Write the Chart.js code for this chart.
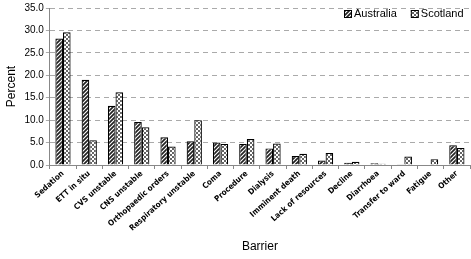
<!DOCTYPE html>
<html>
<head>
<meta charset="utf-8">
<script src="https://cdn.jsdelivr.net/npm/chart.js@4"></script>
<style>
  html, body { margin: 0; padding: 0; background: #fff; }
  #wrap { width: 471px; height: 259px; }
</style>
</head>
<body>
<div id="wrap"><canvas id="c" width="471" height="259"></canvas></div>
<script>
const barriers = ['Sedation', 'ETT in situ', 'CVS unstable', 'CNS unstable', 'Orthopaedic orders',
  'Respiratory unstable', 'Coma', 'Procedure', 'Dialysis', 'Imminent death', 'Lack of resources',
  'Decline', 'Diarrhoea', 'Transfer to ward', 'Fatigue', 'Other']
const australia = [28.2, 19.0, 13.2, 9.6, 6.2, 5.3, 5.0, 4.7, 3.7, 2.0, 1.0, 0.5, 0.4, 0.15, 0, 4.4]
const scotland = [29.6, 5.5, 16.2, 8.4, 4.1, 10.0, 4.7, 5.8, 4.8, 2.5, 2.7, 0.7, 0.3, 1.9, 1.3, 3.8]
const yTicks = [0, 5, 10, 15, 20, 25, 30, 35]

// hatch patterns like the excel fills
function stripes() {
  let c = document.createElement('canvas')
  c.width = 4; c.height = 4
  let g = c.getContext('2d')
  g.fillStyle = '#fff'
  g.fillRect(0, 0, 4, 4)
  g.strokeStyle = '#222'
  g.lineWidth = 1.7
  g.beginPath()
  g.moveTo(-1, 5); g.lineTo(5, -1)
  g.moveTo(-1, 1); g.lineTo(1, -1)
  g.moveTo(3, 5); g.lineTo(5, 3)
  g.stroke()
  return g.createPattern(c, 'repeat')
}
function checks() {
  let c = document.createElement('canvas')
  c.width = 4; c.height = 4
  let g = c.getContext('2d')
  g.fillStyle = '#fff'
  g.fillRect(0, 0, 4, 4)
  g.fillStyle = '#666'
  g.fillRect(0, 0, 2, 2)
  g.fillRect(2, 2, 2, 2)
  return g.createPattern(c, 'repeat')
}

// legend drawn inside the plot, top right
const legendInside = {
  id: 'legendInside',
  afterDraw(chart) {
    let ctx = chart.ctx
    let ds = chart.data.datasets
    let x = chart.chartArea.right - 126
    let y = 14
    ctx.save()
    ctx.font = '11px "Liberation Sans", Arial'
    ctx.textBaseline = 'middle'
    ds.forEach((d, i) => {
      ctx.fillStyle = d.backgroundColor
      ctx.fillRect(x, y - 4, 8, 8)
      ctx.strokeStyle = '#000'
      ctx.lineWidth = 1
      ctx.strokeRect(x + 0.5, y - 3.5, 7, 7)
      ctx.fillStyle = '#000'
      ctx.fillText(d.label, x + 10, y)
      x += ctx.measureText(d.label).width + 24
    })
    ctx.restore()
  }
}

const ctx = document.getElementById('c').getContext('2d')
new Chart(ctx, {
  type: 'bar',
  data: {
    labels: barriers,
    datasets: [{
      label: 'Australia',
      data: australia,
      backgroundColor: stripes(),
      borderColor: '#000',
      borderWidth: 1.2
    }, {
      label: 'Scotland',
      data: scotland,
      backgroundColor: checks(),
      borderColor: '#000',
      borderWidth: 1.2
    }]
  },
  plugins: [legendInside],
  options: {
    responsive: false,
    animation: false,
    layout: { padding: { top: 2, right: 1, left: 0, bottom: 1 } },
    datasets: {
      bar: { categoryPercentage: 0.58, barPercentage: 1.0 }
    },
    scales: {
      x: {
        afterFit: axis => { axis.height = 93 },
        grid: {
          display: true,
          drawOnChartArea: false,
          offset: true,
          tickLength: 4,
          color: '#888'
        },
        border: { color: '#888' },
        ticks: {
          minRotation: 42,
          maxRotation: 42,
          autoSkip: false,
          padding: 0,
          color: '#000',
          font: { family: '"DejaVu Sans Condensed", "Liberation Sans", Arial', size: 8, weight: 'bold' }
        },
        title: {
          display: true,
          text: 'Barrier',
          color: '#000',
          padding: { top: 2 },
          font: { family: '"Liberation Sans", Arial', size: 12 }
        }
      },
      y: {
        min: 0,
        max: 35,
        afterBuildTicks: axis => { axis.ticks = yTicks.map(v => ({ value: v })) },
        grid: {
          color: '#aaa',
          tickLength: 4,
          drawTicks: true
        },
        border: { color: '#888', dash: [5, 4] },
        ticks: {
          padding: 2,
          color: '#000',
          font: { family: '"Liberation Sans", Arial', size: 10 },
          callback: v => Number(v).toFixed(1)
        },
        title: {
          display: true,
          text: 'Percent',
          color: '#000',
          padding: { bottom: 4 },
          font: { family: '"Liberation Sans", Arial', size: 12 }
        }
      }
    },
    plugins: {
      legend: { display: false },
      tooltip: { enabled: false }
    }
  }
})
</script>
</body>
</html>
